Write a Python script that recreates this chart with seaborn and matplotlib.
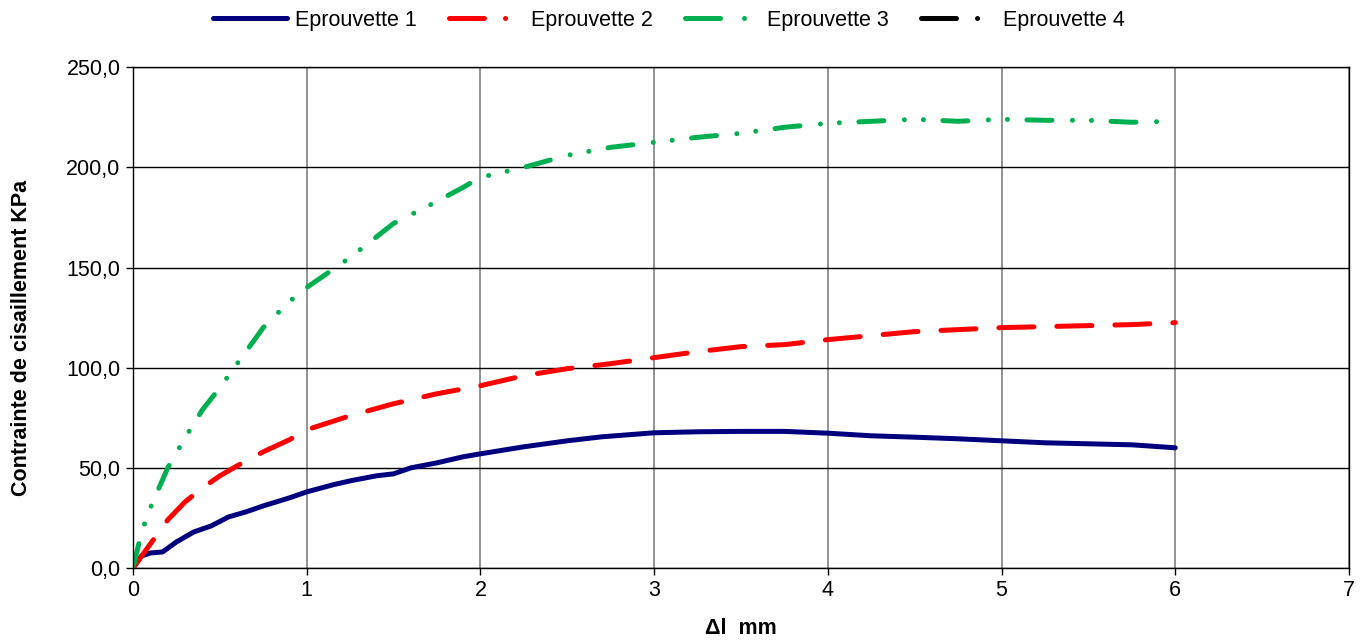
import pandas as pd
import numpy as np
import matplotlib
matplotlib.use("Agg")
import matplotlib.pyplot as plt
import seaborn as sns
from matplotlib.lines import Line2D
from matplotlib.ticker import FuncFormatter

sns.set_style("white")
plt.rcParams['font.family'] = ['Liberation Sans', 'DejaVu Sans']
plt.rcParams['lines.dash_capstyle'] = 'round'
plt.rcParams['lines.solid_capstyle'] = 'round'
plt.rcParams['text.color'] = 'black'
plt.rcParams['axes.labelcolor'] = 'black'

x1 = [0, 0.05, 0.1, 0.17, 0.25, 0.35, 0.45, 0.55, 0.65, 0.75, 0.9, 1.0, 1.15, 1.25, 1.4, 1.5, 1.6, 1.75,
      1.9, 2.0, 2.25, 2.5, 2.7, 3.0, 3.25, 3.5, 3.75, 4.0, 4.25, 4.5, 4.75, 5.0, 5.25, 5.5, 5.75, 6.0]
y1 = [0, 6, 7.5, 8, 13, 18, 21, 25.5, 28, 31, 35, 38, 41.5, 43.5, 46, 47, 50, 52.5,
      55.5, 57, 60.5, 63.5, 65.5, 67.5, 68, 68.2, 68.2, 67.3, 66, 65.3, 64.5, 63.5, 62.5, 62, 61.5, 60]

x2 = [0, 0.05, 0.1, 0.2, 0.3, 0.4, 0.5, 0.6, 0.75, 0.9, 1.0, 1.25, 1.5, 1.75, 2.0, 2.25, 2.5, 2.75,
      3.0, 3.25, 3.5, 3.75, 4.0, 4.25, 4.5, 4.75, 5.0, 5.25, 5.5, 5.75, 6.0]
y2 = [0, 6, 12, 24, 33, 40, 46, 51, 58, 64, 69, 76, 82, 87, 91, 96, 99.5, 102,
      105, 108, 110.5, 111.5, 114, 116, 118, 119, 120, 120.5, 121, 121.5, 122.5]

x3 = [0, 0.05, 0.1, 0.2, 0.3, 0.4, 0.5, 0.6, 0.75, 0.9, 1.0, 1.25, 1.5, 1.75, 1.9, 2.0, 2.25, 2.5,
      2.75, 3.0, 3.25, 3.5, 3.75, 4.0, 4.25, 4.5, 4.75, 5.0, 5.25, 5.5, 5.75, 6.0]
y3 = [0, 18, 30, 50, 65, 79, 90, 102, 120, 133, 140, 155, 172, 183, 190, 195, 200, 206,
      210, 212.5, 215, 217, 220, 222, 223, 224, 223, 224, 223.5, 223.5, 222.5, 223]

names = ["Eprouvette 1", "Eprouvette 2", "Eprouvette 3", "Eprouvette 4"]
colors = ["#00007F", "#FF0000", "#00B050", "#000000"]
dash_styles = ["", (7, 4.6), (5, 4.1, 0.01, 3.8, 0.01, 3.9), (7, 4.5, 0.01, 4.5)]
legend_dashes = ["", (7, 4.2, 0.01, 10), (7, 4.8, 0.01, 10), (7, 4.2, 0.01, 10)]

df = pd.concat([
    pd.DataFrame({"dl": x1, "tau": y1, "serie": names[0]}),
    pd.DataFrame({"dl": x2, "tau": y2, "serie": names[1]}),
    pd.DataFrame({"dl": x3, "tau": y3, "serie": names[2]}),
])

fig = plt.figure(figsize=(13.64, 6.4), dpi=100)
ax = fig.add_axes([0.0975, 0.1125, 0.8915, 0.7825])

lw = 3.6
sns.lineplot(data=df, x="dl", y="tau", hue="serie", style="serie",
             hue_order=names[:3], style_order=names[:3],
             palette=dict(zip(names, colors)), dashes=dict(zip(names, dash_styles)),
             linewidth=lw, ax=ax, legend=False, sort=False)
for ln in ax.get_lines():
    ln.set_dash_capstyle("round")
    ln.set_solid_capstyle("round")
    ln.set_solid_joinstyle("round")
    ln.set_dash_joinstyle("round")

ax.set_xlim(0, 7)
ax.set_ylim(0, 250)
ax.set_xticks(range(0, 8))
ax.set_yticks(np.arange(0, 251, 50))
ax.yaxis.set_major_formatter(FuncFormatter(lambda v, p: f"{v:.1f}".replace(".", ",")))
ax.tick_params(direction="out", length=5, width=1, labelsize=15.5, colors="black",
               left=True, bottom=True, pad=4)
ax.grid(True, axis="x", color="#808080", linewidth=1.2)
ax.grid(True, axis="y", color="black", linewidth=1)
ax.set_axisbelow(True)
for s in ax.spines.values():
    s.set_color("black")
    s.set_linewidth(1)

ax.set_xlabel("\u0394l  mm", fontsize=15.5, fontweight="bold", color="black")
ax.set_ylabel("Contrainte de cisaillement KPa", fontsize=15.5, fontweight="bold", color="black")
ax.xaxis.set_label_coords(0.5, -0.1)
ax.yaxis.set_label_coords(-0.083, 0.46)

handles = []
for c, d in zip(colors, legend_dashes):
    if d == "":
        h = Line2D([0], [0], color=c, lw=lw, linestyle="-", solid_capstyle="round")
    else:
        h = Line2D([0], [0], color=c, lw=lw, dashes=d, dash_capstyle="round")
    handles.append(h)
leg = fig.legend(handles, names, loc="upper center", bbox_to_anchor=(0.4905, 1.015), ncol=4,
                 frameon=False, fontsize=15.5, handlelength=3.4, handletextpad=0.4, columnspacing=1.5)
for t in leg.get_texts():
    t.set_color("black")

fig.savefig("out.png", dpi=100)
